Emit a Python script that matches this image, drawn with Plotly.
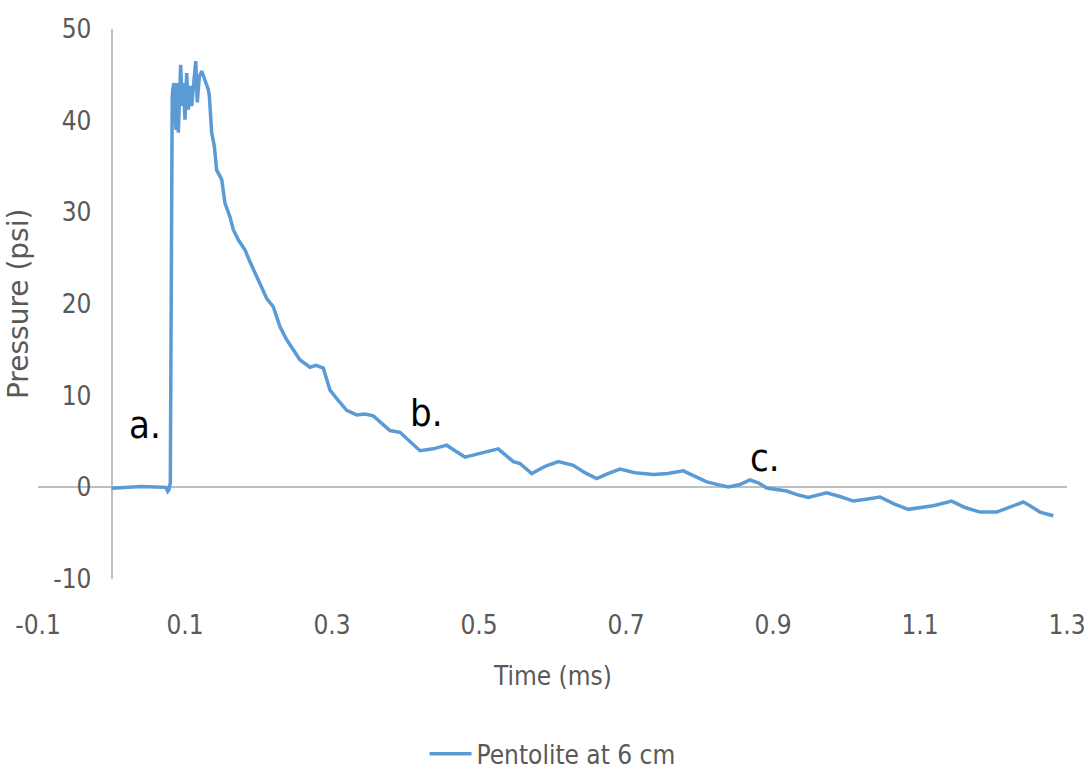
import plotly.graph_objects as go

# Pressure trace: time (ms) and pressure (psi)
time_ms = [
    0.000, 0.020, 0.040, 0.060, 0.074, 0.0765, 0.078, 0.0800,
    0.0810, 0.0818, 0.0826, 0.0833, 0.0850, 0.0878, 0.0895, 0.0909, 0.0941,
    0.0963, 0.0977, 0.1000, 0.1023, 0.1045, 0.1068, 0.1091, 0.1113, 0.1146,
    0.1167, 0.1195, 0.1227, 0.1259, 0.1286, 0.1317, 0.1331, 0.1363, 0.1399,
    0.1431, 0.1499, 0.1544, 0.1612, 0.1657, 0.1725, 0.1816, 0.1884, 0.1952,
    0.2044, 0.2112, 0.2201, 0.2293, 0.2384, 0.2469, 0.2565, 0.2701, 0.2782,
    0.2882, 0.2973, 0.3082, 0.3200, 0.3336, 0.3449, 0.3562, 0.3680, 0.3789,
    0.3925, 0.4061, 0.4197, 0.4378, 0.4561, 0.4673, 0.4810, 0.5014, 0.5262,
    0.5467, 0.5558, 0.5717, 0.5900, 0.6079, 0.6283, 0.6440, 0.6601, 0.6755,
    0.6918, 0.7120, 0.7371, 0.7570, 0.7780, 0.7910, 0.8098, 0.8250, 0.8392,
    0.8550, 0.8687, 0.8800, 0.8914, 0.9186, 0.9327, 0.9480, 0.9730, 0.9910,
    1.0093, 1.0265, 1.0456, 1.0646, 1.0841, 1.1181, 1.1431, 1.1612, 1.1816,
    1.2044, 1.2224, 1.2405, 1.2497, 1.2633, 1.2814,
]
pressure_psi = [
    -0.1, 0.0, 0.1, 0.05, 0.0, -0.45, -0.3, 0.5,
    20.0, 40.0, 42.5, 43.4, 44.1, 39.0, 44.1, 38.7, 46.1,
    41.6, 44.1, 40.1, 45.2, 41.2, 43.8, 41.6, 44.1, 46.5,
    42.0, 44.8, 45.4, 44.7, 44.1, 43.4, 42.7, 38.7, 37.2,
    34.6, 33.6, 31.0, 29.5, 28.1, 27.0, 25.9, 24.6, 23.4,
    21.9, 20.6, 19.7, 17.5, 16.1, 15.0, 13.9, 13.1, 13.3,
    13.0, 10.6, 9.5, 8.4, 7.9, 8.0, 7.8, 7.0, 6.2,
    6.0, 5.0, 4.0, 4.2, 4.6, 4.0, 3.3, 3.7, 4.2,
    2.8, 2.6, 1.5, 2.3, 2.8, 2.4, 1.6, 0.95, 1.5,
    2.0, 1.6, 1.4, 1.5, 1.8, 1.3, 0.6, 0.3, 0.03,
    0.3, 0.8, 0.5, -0.07, -0.4, -0.8, -1.1, -0.6, -1.0,
    -1.5, -1.3, -1.06, -1.8, -2.4, -2.0, -1.5, -2.2, -2.7,
    -2.7, -2.2, -1.6, -2.0, -2.7, -3.1,
]

series_name = "Pentolite at 6 cm"
x_tick_vals = [-0.1, 0.1, 0.3, 0.5, 0.7, 0.9, 1.1, 1.3]
x_tick_text = ["-0.1", "0.1", "0.3", "0.5", "0.7", "0.9", "1.1", "1.3"]
y_tick_vals = [-10, 0, 10, 20, 30, 40, 50]
y_tick_text = ["-10", "0", "10", "20", "30", "40", "50"]

# Point labels: text, time, pressure
marker_text = ["a.", "b.", "c."]
marker_time = [0.046, 0.429, 0.889]
marker_pressure = [6.8, 8.1, 3.2]

FONT = "DejaVu Sans Condensed, Liberation Sans Narrow, Liberation Sans, sans-serif"
GREY_TEXT = "#595959"
AXIS_GREY = "#BFBFBF"
LINE_BLUE = "#5B9BD5"

x_min, x_max = -0.1, 1.3

fig = go.Figure()
fig.add_trace(go.Scatter(
    x=time_ms, y=pressure_psi, mode="lines", name=series_name,
    line=dict(color=LINE_BLUE, width=3.5),
    showlegend=True,
))

for txt, tx, ty in zip(marker_text, marker_time, marker_pressure):
    fig.add_annotation(
        x=tx, y=ty, xref="x", yref="y", text=txt, showarrow=False,
        font=dict(family=FONT, size=38, color="#000000"),
        xanchor="center", yanchor="middle",
    )

# Axis titles
fig.add_annotation(
    x=0.5, y=-0.176, xref="paper", yref="paper", text="Time (ms)",
    showarrow=False, font=dict(family=FONT, size=26, color=GREY_TEXT),
    xanchor="center", yanchor="middle",
)
fig.add_annotation(
    x=-0.0194, y=0.5, xref="paper", yref="paper", text="Pressure (psi)",
    showarrow=False, textangle=-90,
    font=dict(family="DejaVu Sans, sans-serif", size=28, color=GREY_TEXT),
    xanchor="center", yanchor="middle",
)

y_axis_pos = (0 - x_min) / (x_max - x_min)

fig.update_layout(
    width=1088, height=774,
    margin=dict(l=38, r=21, t=29, b=195, autoexpand=False),
    paper_bgcolor="white", plot_bgcolor="white",
    font=dict(family=FONT, size=26, color=GREY_TEXT),
    xaxis=dict(
        range=[x_min, x_max], tickvals=x_tick_vals, ticktext=x_tick_text,
        showgrid=False, showline=False, ticks="", automargin=False,
        zeroline=True, zerolinecolor=AXIS_GREY, zerolinewidth=2,
        ticklabelstandoff=28,
        tickfont=dict(family=FONT, size=26, color=GREY_TEXT),
    ),
    yaxis=dict(
        range=[-10, 50], tickvals=y_tick_vals, ticktext=y_tick_text,
        showgrid=False, showline=False, ticks="", automargin=False,
        zeroline=True, zerolinecolor=AXIS_GREY, zerolinewidth=2,
        anchor="free", position=y_axis_pos,
        ticklabelstandoff=20,
        tickfont=dict(family=FONT, size=26, color=GREY_TEXT),
    ),
    legend=dict(
        orientation="h", x=0.5, xanchor="center", y=-0.318, yanchor="middle",
        font=dict(family=FONT, size=26, color=GREY_TEXT),
        bgcolor="rgba(0,0,0,0)", itemwidth=42,
    ),
)

fig.write_html("out.html")
